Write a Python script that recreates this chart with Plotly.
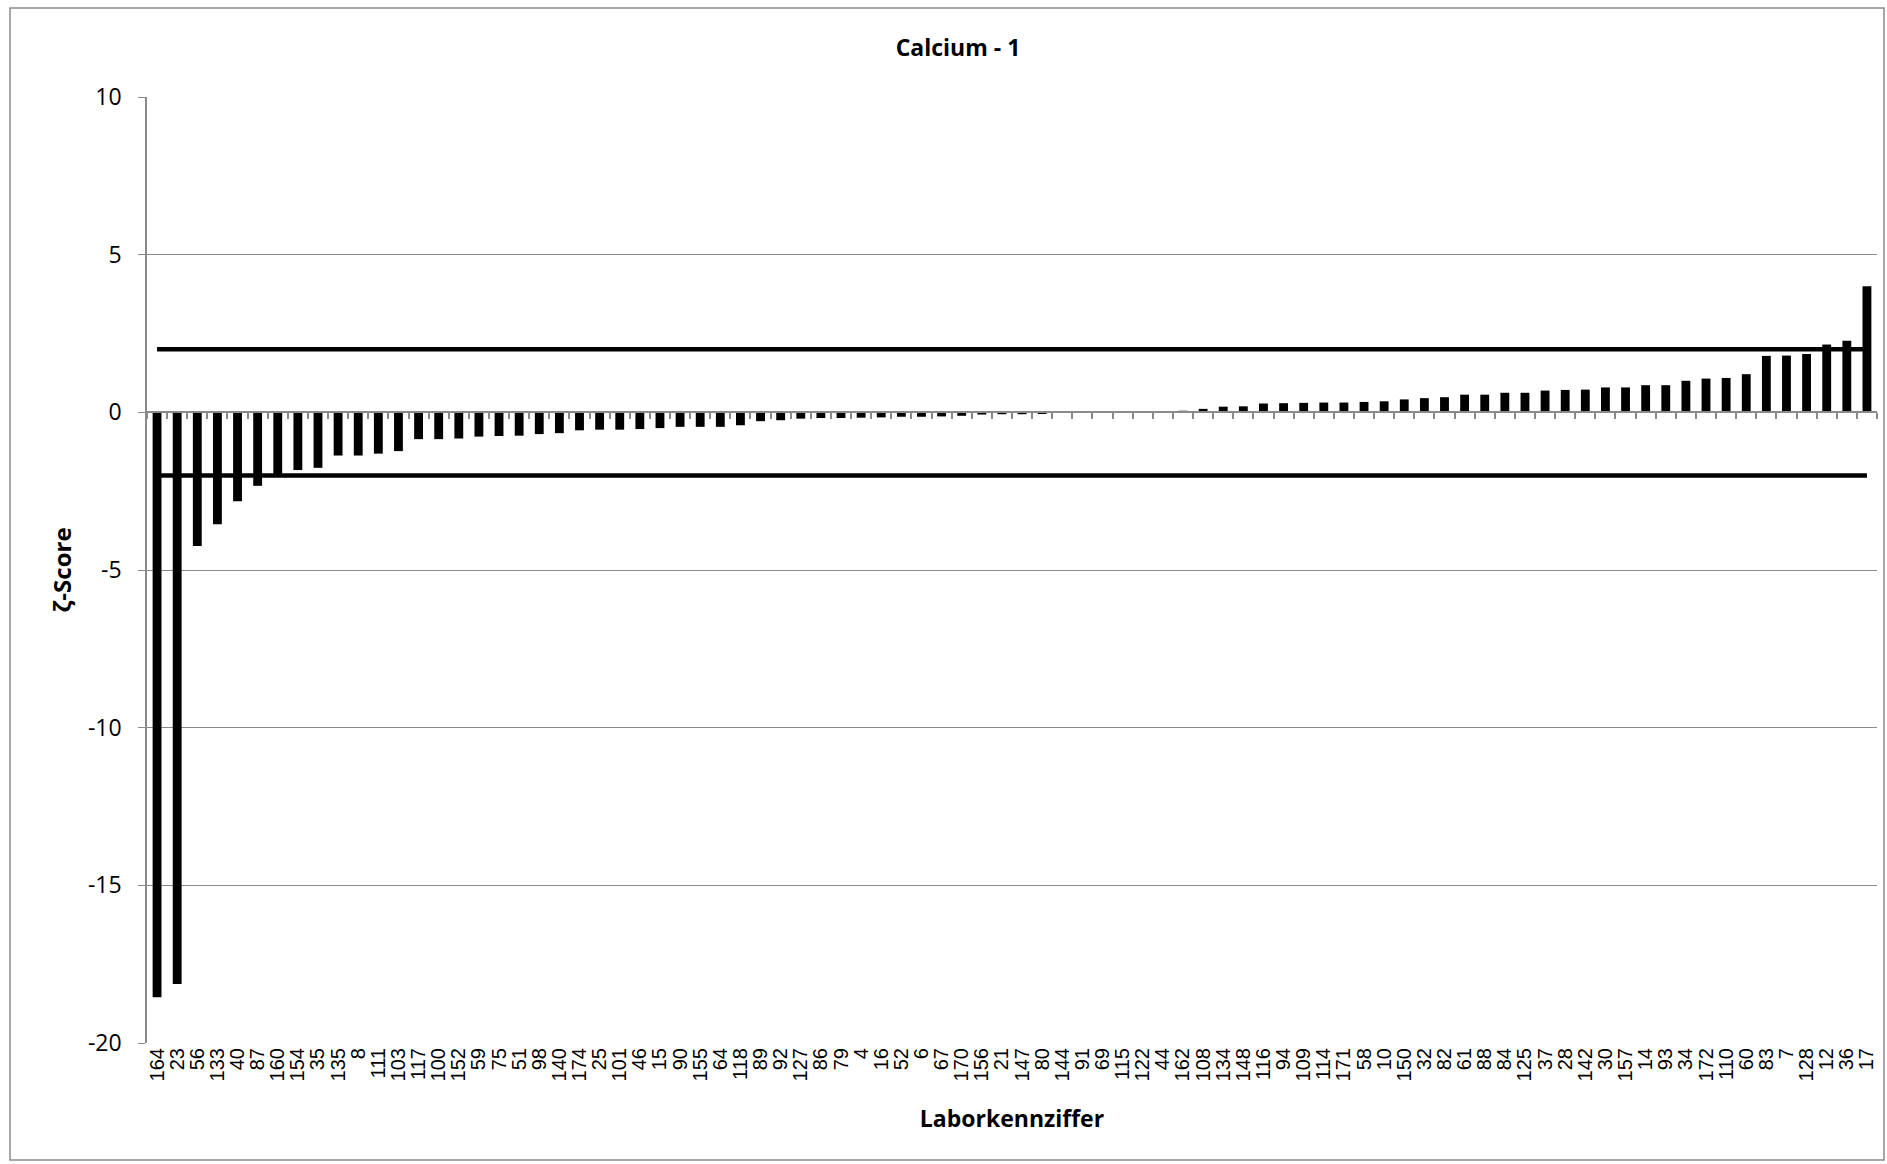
import plotly.graph_objects as go

labs = ["164", "23", "56", "133", "40", "87", "160", "154", "35", "135", "8", "111", "103", "117",
        "100", "152", "59", "75", "51", "98", "140", "174", "25", "101", "46", "15", "90", "155",
        "64", "118", "89", "92", "127", "86", "79", "4", "16", "52", "6", "67", "170", "156", "21",
        "147", "80", "144", "91", "69", "115", "122", "44", "162", "108", "134", "148", "116", "94",
        "109", "114", "171", "58", "10", "150", "32", "82", "61", "88", "84", "125", "37", "28",
        "142", "30", "157", "14", "93", "34", "172", "110", "60", "83", "7", "128", "12", "36", "17"]

zeta = [-18.55, -18.13, -4.24, -3.55, -2.82, -2.33, -1.98, -1.83, -1.76, -1.37, -1.37, -1.31, -1.23,
        -0.85, -0.85, -0.83, -0.77, -0.75, -0.74, -0.69, -0.66, -0.57, -0.55, -0.55, -0.53, -0.50,
        -0.46, -0.46, -0.46, -0.41, -0.28, -0.25, -0.20, -0.18, -0.18, -0.17, -0.16, -0.14, -0.14,
        -0.13, -0.11, -0.07, -0.06, -0.06, -0.03, -0.01, 0.0, 0.0, 0.01, 0.03, 0.03, 0.05, 0.11,
        0.18, 0.19, 0.28, 0.29, 0.30, 0.31, 0.31, 0.33, 0.35, 0.41, 0.45, 0.48, 0.56, 0.56, 0.62,
        0.62, 0.69, 0.71, 0.72, 0.79, 0.79, 0.86, 0.86, 1.00, 1.07, 1.09, 1.21, 1.79, 1.80, 1.85,
        2.15, 2.27, 4.00]

upper = [2.0] * len(labs)
lower = [-2.0] * len(labs)

y_ticks = [-20, -15, -10, -5, 0, 5, 10]
y_ticktext = ["-20", "-15", "-10", "-5", "0", "5", "10"]

GRID = "#8a8a8a"
FONT = "Open Sans"

fig = go.Figure()
fig.add_trace(go.Bar(x=labs, y=zeta, marker=dict(color="black", line=dict(width=0)),
                     showlegend=False))
fig.add_trace(go.Scatter(x=labs, y=upper, mode="lines", line=dict(color="black", width=4.5),
                         xaxis="x2", showlegend=False))
fig.add_trace(go.Scatter(x=labs, y=lower, mode="lines", line=dict(color="black", width=4.5),
                         xaxis="x2", showlegend=False))

fig.update_layout(
    width=1887, height=1164,
    margin=dict(l=147, r=10, t=97, b=121),
    paper_bgcolor="white", plot_bgcolor="white",
    bargap=0.56,
    title=dict(text="<b>Calcium - 1</b>", x=958 / 1887, xref="container", xanchor="center",
               y=1 - 48 / 1164, yref="container", yanchor="middle",
               font=dict(family=FONT, size=23, color="black")),
    xaxis=dict(type="category", categoryorder="array", categoryarray=labs,
               tickmode="array", tickvals=labs, ticktext=labs,
               tickangle=-90, tickfont=dict(family="Liberation Sans", size=20, color="black"),
               ticks="", showgrid=False, showline=False, zeroline=False,
               title=dict(text="<b>Laborkennziffer</b>", standoff=30,
                          font=dict(family=FONT, size=23, color="black"))),
    xaxis2=dict(type="category", overlaying="x", matches="x", anchor="free", position=2 / 3,
                showticklabels=False, ticks="outside", ticklen=6, tickcolor=GRID, tickwidth=1.5,
                tickson="boundaries", showline=True, linecolor=GRID, linewidth=1.5,
                showgrid=False, zeroline=False),
    yaxis=dict(range=[-20, 10], tickvals=y_ticks, ticktext=y_ticktext,
               ticks="outside", ticklen=7, tickcolor=GRID, showline=True, linecolor=GRID,
               linewidth=1.5, showgrid=True, gridcolor=GRID, gridwidth=1.2,
               zeroline=True, zerolinecolor=GRID, zerolinewidth=1.5,
               ticklabelstandoff=12,
               tickfont=dict(family=FONT, size=23, color="black"),
               title=dict(text="<b>ζ-Score</b>", standoff=10,
                          font=dict(family=FONT, size=24, color="black"))),
)

fig.add_shape(type="rect", xref="paper", yref="paper",
              x0=(10 - 147) / 1730, x1=(1884 - 147) / 1730,
              y0=(1043 - 1160) / 946, y1=(1043 - 8) / 946,
              line=dict(color=GRID, width=1.5), fillcolor="rgba(0,0,0,0)", layer="below")

fig.write_html("out.html", config={"displayModeBar": False},
               post_script="document.body.style.margin='0';document.body.style.overflow='hidden';")
